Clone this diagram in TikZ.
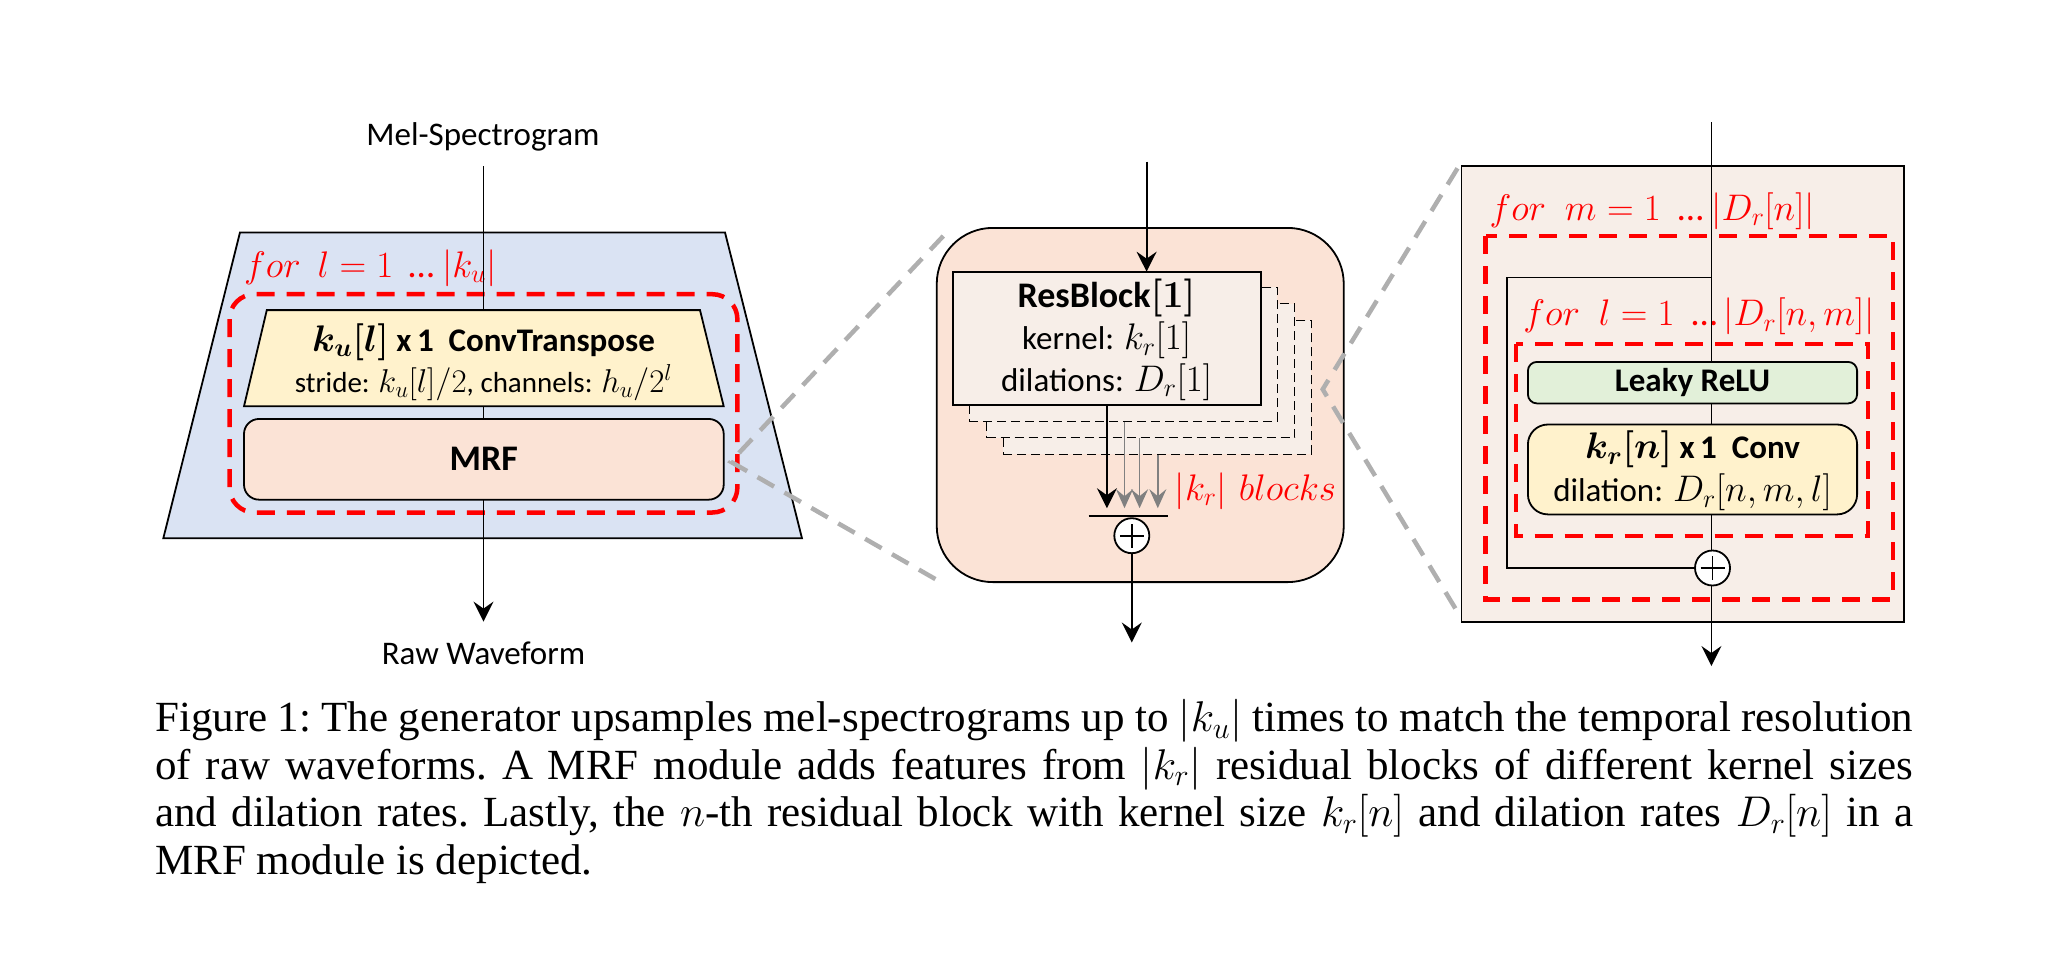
\RequirePackage{fix-cm}
\documentclass[tikz,border=0pt]{standalone}
\usepackage{amsmath}
\usepackage[no-math]{fontspec}
\setmainfont{Carlito}
\newfontfamily\capfont{Liberation Serif}
\usetikzlibrary{arrows.meta,calc}
\DeclareMathSizes{33}{37}{26}{19}
\DeclareMathSizes{36}{38}{27}{19}
\DeclareMathSizes{29}{33}{23}{17}
\definecolor{blueF}{HTML}{DAE3F3}
\definecolor{yellowF}{HTML}{FFF2CC}
\definecolor{peachF}{HTML}{FBE3D6}
\definecolor{lightF}{HTML}{F7EEE8}
\definecolor{greenF}{HTML}{E2F0D9}
\definecolor{zgray}{HTML}{AFAFAF}
\definecolor{agray}{HTML}{808080}
\tikzset{
  ln/.style={line width=1.8pt},
  arr/.style={line width=1.8pt, -{Stealth[length=20pt,width=20pt,inset=7pt]}},
  garr/.style={line width=1.4pt, draw=agray, -{Stealth[length=19pt,width=17pt,inset=7pt,fill=agray]}},
  reddash/.style={draw=red, line width=4.5pt, dash pattern=on 18pt off 12pt},
  zoomline/.style={draw=zgray, line width=4.5pt, dash pattern=on 19pt off 12pt},
  box/.style={draw, line width=1.8pt, inner sep=0pt, outer sep=0pt},
  stackbox/.style={draw, line width=1.4pt, fill=lightF, dash pattern=on 9pt off 5pt, minimum width=308pt, minimum height=134pt, inner sep=0pt},
  redtxt/.style={text=red, anchor=west, inner sep=0pt, font=\fontsize{37}{44}\selectfont},
  plus/.style={circle, draw, fill=white, line width=1.8pt, minimum size=35pt, inner sep=0pt,
    path picture={\draw[line width=1.8pt] ($(path picture bounding box.center)+(-12pt,0)$) -- ($(path picture bounding box.center)+(12pt,0)$);
                  \draw[line width=1.8pt] ($(path picture bounding box.center)+(0,-12pt)$) -- ($(path picture bounding box.center)+(0,12pt)$);}},
}
\begin{document}
\begin{tikzpicture}[x=1pt,y=-1pt,font=\fontsize{33}{40}\selectfont]
\useasboundingbox (0,0) rectangle (2066,962);

% ---------------- left panel ----------------
\node[inner sep=0pt] (mel) at (483,137) {Mel-Spectrogram};
\coordinate (melout) at (483.5,166);
\path[fill=blueF, draw, ln] (240,232.4) -- (725,232.4) -- (802,538.3) -- (163.3,538.3) -- cycle;
\node[redtxt] (forl) at (244,268) {$for\hspace{17pt}l=1\hspace{15pt}\text{…}\hspace{8pt}|k_u|$};
\draw[reddash, rounded corners=25pt] (229.5,294.2) rectangle (737.4,512.5);
\path[fill=yellowF, draw, ln] (266.8,310.1) -- (700,310.1) -- (723.7,406.3) -- (244,406.3) -- cycle;
\coordinate (cttop) at (483.5,310.1);
\coordinate (ctbot) at (483.5,406.3);
\node[inner sep=0pt] (ct1) at (483.5,342) {$\boldsymbol{k_u[l]}$ \textbf{x\,1\ \ ConvTranspose}};
\node[inner sep=0pt, font=\fontsize{29}{34}\selectfont] (ct2) at (483.5,383) {stride: $k_u[l]/2$, channels: $h_u/2^l$};
\node[box, fill=peachF, rounded corners=15pt, minimum width=479.7pt, minimum height=80.7pt, font=\fontsize{36}{40}\selectfont] (mrf) at (483.85,459.3) {\bfseries MRF};
\coordinate (rawend) at (483.5,621.6);
\node[inner sep=0pt] (raw) at (483.5,653) {Raw Waveform};
\draw[ln] (melout) -- (cttop);
\draw[ln] (ctbot) -- (mrf.north -| ctbot);
\draw[arr] (mrf.south -| rawend) -- (rawend);

% ---------------- middle panel ----------------
\coordinate (min) at (1146.6,161.6);
\node[box, fill=peachF, rounded corners=56pt, minimum width=407pt, minimum height=354.2pt] (mrfbig) at (1140.25,405) {};
\node[stackbox] (rb4) at (1157.3,387.4) {};
\node[stackbox] (rb3) at (1140.5,370.6) {};
\node[stackbox] (rb2) at (1123.3,354.2) {};
\node[box, fill=lightF, minimum width=308pt, minimum height=133.6pt, align=center] (rb1) at (1106.6,338.5) {};
\node[inner sep=0pt, font=\fontsize{36}{40}\selectfont] (rbt1) at (1106.6,297.5) {\textbf{ResBlock}$\boldsymbol{[1]}$};
\node[inner sep=0pt] (rbt2) at (1106.6,340.7) {kernel: $k_r[1]$};
\node[inner sep=0pt] (rbt3) at (1106.6,382.1) {dilations: $D_r[1]$};
\draw[arr] (min) -- (min |- rb1.north);
\draw[arr] (rb1.south -| 1106.9,0) -- (1106.9,508.2);
\draw[garr] (rb2.south -| 1124.5,0) -- (1124.5,508.2);
\draw[garr] (rb3.south -| 1139.6,0) -- (1139.6,508.2);
\draw[garr] (rb4.south -| 1157.8,0) -- (1157.8,508.2);
\coordinate (barL) at (1088.7,515.8);
\coordinate (barR) at (1168.3,515.8);
\draw[ln] (barL) -- (barR);
\node[plus] (sum1) at (1131.8,535.7) {};
\coordinate (mout) at (1131.8,642.5);
\draw[arr] (sum1.south) -- (mout);
\node[redtxt] (kb) at (1174.6,491) {$|k_r|\hspace{12pt}blocks$};

% zoom lines
\coordinate (zv1) at (730.7,461.7);
\coordinate (za1) at (943.3,236);
\coordinate (zb1) at (941.7,582.7);
\draw[zoomline] (za1) -- (zv1) -- (zb1);
\coordinate (zv2) at (1322.7,389.3);
\coordinate (za2) at (1457.5,168.3);
\coordinate (zb2) at (1458.3,613.3);
\draw[zoomline] (za2) -- (zv2) -- (zb2);

% ---------------- right panel ----------------
\coordinate (rin) at (1711.4,122.2);
\node[box, fill=lightF, minimum width=442.9pt, minimum height=455.7pt] (rbox) at (1682.85,393.75) {};
\node[redtxt] (form) at (1489.3,211) {$for\hspace{19pt}m=1\hspace{17pt}\text{…}\hspace{8pt}|D_r[n]|$};
\draw[reddash] (1485.7,236.1) rectangle (1892.9,599.4);
\node[redtxt] (forl2) at (1523.2,316.4) {$for\hspace{19pt}l=1\hspace{17pt}\text{…}\hspace{6pt}|D_r[n,m]|$};
\draw[reddash] (1516.1,344.2) rectangle (1867.9,535.8);
\node[box, fill=greenF, rounded corners=9pt, minimum width=329.2pt, minimum height=41.5pt] (lrelu) at (1692.5,382.65) {\bfseries Leaky ReLU};
\node[box, fill=yellowF, rounded corners=20pt, minimum width=329.2pt, minimum height=89.9pt] (conv) at (1692.5,469.45) {};
\node[inner sep=0pt] (cvt1) at (1692.5,449.6) {$\boldsymbol{k_r[n]}$ \textbf{x\,1\ \ Conv}};
\node[inner sep=0pt] (cvt2) at (1692.5,492.2) {dilation: $D_r[n,m,l]$};
\node[plus] (sum2) at (1712.5,568) {};
\coordinate (skA) at (1711.4,277.6);
\coordinate (skB) at (1507.1,277.6);
\coordinate (skC) at (1507.1,568);
\draw[line width=1.5pt] (skA) -- (skB) -- (skC) -- (sum2.west);
\draw[ln] (rin) -- (rin |- lrelu.north);
\draw[ln] (lrelu.south -| rin) -- (conv.north -| rin);
\draw[ln] (conv.south -| rin) -- (sum2.north -| rin);
\coordinate (rout) at (1711.4,666);
\draw[arr] (sum2.south -| rin) -- (rout);

% ---------------- caption ----------------
\node[anchor=base west, inner sep=0pt, text width=1758pt, align=justify,
      font=\capfont\fontsize{43}{47.6}\selectfont\frenchspacing] (cap) at (155,731.7)
 {Figure 1: The generator upsamples mel-spectrograms up to $|k_u|$ times to match the temporal resolution\linebreak
 of raw waveforms. A MRF module adds features from $|k_r|$ residual blocks of different kernel sizes\linebreak
 and dilation rates. Lastly, the $n$-th residual block with kernel size $k_r[n]$ and dilation rates $D_r[n]$ in a\linebreak
 MRF module is depicted.};
\end{tikzpicture}
\end{document}
